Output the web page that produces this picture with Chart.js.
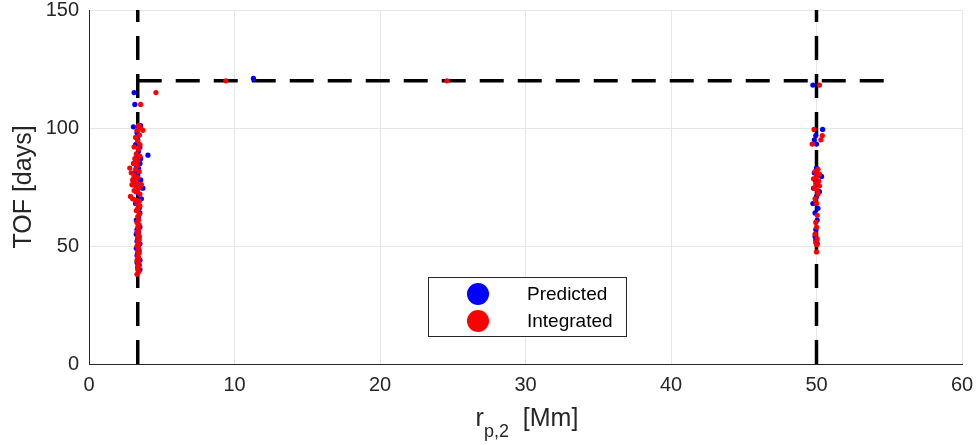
<!DOCTYPE html>
<html>
<head>
    <title>TOF vs r_p,2</title>
    <script src="https://cdn.jsdelivr.net/npm/chart.js"></script>
    <style>
        body { margin: 0; background: #fff; }
        #box { width: 979px; height: 445px; }
    </style>
</head>
<body>
<div id="box"><canvas id="myChart" width="979" height="445"></canvas></div>
<script>
    // 予測値 (Predicted)
    const predX = [3.05, 3.55, 3.1, 3.15, 4.05, 3.7, 3.3, 3.45, 3.35, 3.2, 3.5, 3.4, 3.3, 3.25, 3.5, 3.4, 3.15, 3.35, 3.55, 3.3,
        3.0, 3.45, 3.25, 3.4, 3.6, 3.35, 3.2, 3.45, 3.3, 3.5, 3.4, 3.25, 3.35, 3.5, 3.3, 3.4, 3.25, 3.45, 3.35, 3.3,
        3.5, 3.4, 3.25, 3.45, 3.35, 3.3, 3.4, 3.5, 3.3, 3.45, 3.35, 3.5, 3.4, 3.25, 3.55, 3.1,
        11.3,
        49.75, 50.42, 49.95, 49.85, 50.0, 50.0, 49.85, 50.15, 50.35, 49.9, 50.05, 49.8, 50.2, 50.0, 49.75, 50.1, 49.9, 50.05, 49.95, 49.9, 50.05, 49.95];
    const predY = [100.5, 101, 115, 110, 88.5, 74.5, 98, 97, 95, 93, 92, 90, 88, 86, 85, 83, 81, 80, 78, 77,
        76, 75, 73, 72, 70, 69, 68, 66, 65, 64, 62, 61, 60, 58, 57, 56, 55, 54, 53, 52,
        51, 50, 49, 48, 47, 46, 45, 44, 43, 42, 41, 40, 39.5, 84, 87, 79,
        121,
        118.2, 99.4, 96.8, 95, 93.2, 83, 81, 80, 79.5, 78, 76, 74.5, 73, 71, 68, 66, 64, 61, 57, 54, 51, 52.5];

    // 積分値 (Integrated)
    const intX = [4.6, 3.55, 3.4, 3.55, 3.7, 3.3, 3.45, 3.2, 3.35, 3.5, 3.1, 3.4, 3.25, 3.5, 3.15, 3.35, 3.05, 3.3, 3.2, 3.45,
        3.1, 3.35, 3.0, 3.25, 2.95, 3.2, 3.4, 3.1, 3.3, 2.85, 3.0, 3.2, 3.45, 3.3, 3.5, 3.35, 3.25, 3.45, 3.35, 3.4,
        3.3, 3.45, 3.35, 3.4, 3.3, 3.4, 3.35, 3.45, 3.35, 3.4, 3.3, 3.4, 3.35, 3.45, 3.35, 3.4, 3.3, 3.4, 3.35, 3.4,
        3.35, 3.4, 3.3, 2.8, 2.9, 3.6, 3.5,
        9.4, 24.6,
        50.2, 49.83, 50.4, 50.3, 49.7, 50.1, 49.9, 50.2, 50.0, 49.8, 50.15, 49.95, 50.2, 49.85, 50.05, 50.1, 49.9, 50.0, 50.05, 49.95,
        50.0, 49.9, 50.05, 49.95, 50.0, 50.0];
    const intY = [115, 110, 101, 100, 99, 99, 97, 96, 94.5, 93, 92, 91, 89, 88, 87, 86, 85, 84, 82.5, 81.5,
        80, 79, 78, 77, 76, 75.5, 74.5, 73.5, 73, 71, 70, 69.5, 69, 68, 67, 66, 65, 63.5, 62.5, 61,
        60, 59, 58, 57, 56, 55, 54, 53, 52, 51, 50, 49, 48, 47, 46, 45, 44, 43, 42, 41,
        40, 39, 38, 83, 81, 76, 72,
        120, 120,
        118.2, 99.4, 96.8, 95, 93.2, 82.5, 81.5, 80.5, 79.5, 78.5, 77.5, 76.5, 75.5, 74.5, 73.5, 72, 70, 68, 63, 60,
        58, 55, 53, 51.5, 50.5, 47.5];

    // 境界線
    const leftLineX = 3.35;
    const rightLineX = 50;
    const topLineY = 120;
    const topLineEndX = 55;

    const xTicks = [0, 10, 20, 30, 40, 50, 60];
    const yTicks = [0, 50, 100, 150];
    const legendOrder = ['Predicted', 'Integrated'];

    const toPoints = (xs, ys) => xs.map((x, i) => ({ x: x, y: ys[i] }));

    const FONT = '"Liberation Sans", Arial, Helvetica, sans-serif';
    const TEXT = '#262626';

    const dashed = {
        type: 'line',
        showLine: true,
        borderColor: '#000',
        borderWidth: 3.5,
        borderDash: [24, 14],
        pointRadius: 0,
        fill: false,
        order: 3,
    };

    const legendAndTitle = {
        id: 'legendAndTitle',
        afterDraw(chart) {
            const c = chart.ctx;
            c.save();
            // x軸タイトル (下付き文字)
            c.fillStyle = TEXT;
            c.textBaseline = 'alphabetic';
            const a = 'r', b = 'p,2', d = '  [Mm]';
            c.font = '25px ' + FONT;
            const wa = c.measureText(a).width;
            const wd = c.measureText(d).width;
            c.font = '18px ' + FONT;
            const wb = c.measureText(b).width;
            let x = 527 - (wa + wb + wd) / 2;
            const base = 426;
            c.font = '25px ' + FONT;
            c.fillText(a, x, base);
            x += wa;
            c.font = '18px ' + FONT;
            c.fillText(b, x, base + 11);
            x += wb;
            c.font = '25px ' + FONT;
            c.fillText(d, x, base);

            // 凡例
            c.fillStyle = '#fff';
            c.fillRect(428, 277, 198, 60);
            c.strokeStyle = '#262626';
            c.lineWidth = 1;
            c.strokeRect(428.5, 277.5, 198, 59);
            legendOrder.forEach((name, i) => {
                const ds = chart.data.datasets.find(d => d.label === name);
                const cy = 294 + i * 27;
                c.beginPath();
                c.arc(478, cy, 11, 0, Math.PI * 2);
                c.fillStyle = ds.backgroundColor;
                c.fill();
                c.fillStyle = '#000';
                c.font = '19px ' + FONT;
                c.textBaseline = 'middle';
                c.fillText(ds.label, 527, cy + 1);
            });
            c.restore();
        }
    };

    const ctx = document.getElementById('myChart').getContext('2d');
    const myChart = new Chart(ctx, {
        type: 'scatter',
        data: {
            datasets: [
                {
                    label: 'Integrated',
                    data: toPoints(intX, intY),
                    backgroundColor: '#ff0000',
                    borderWidth: 0,
                    pointRadius: 2.6,
                    order: 1,
                },
                {
                    label: 'Predicted',
                    data: toPoints(predX, predY),
                    backgroundColor: '#0000ff',
                    borderWidth: 0,
                    pointRadius: 2.6,
                    order: 2,
                },
                Object.assign({ data: [{ x: leftLineX, y: 0 }, { x: leftLineX, y: 150 }] }, dashed),
                Object.assign({ data: [{ x: rightLineX, y: 0 }, { x: rightLineX, y: 150 }] }, dashed),
                Object.assign({ data: [{ x: leftLineX, y: topLineY }, { x: topLineEndX, y: topLineY }] }, dashed),
            ],
        },
        options: {
            responsive: false,
            animation: false,
            layout: { padding: { left: 0, top: 10, right: 17, bottom: 0 } },
            plugins: {
                legend: { display: false },
                tooltip: { enabled: false },
            },
            scales: {
                x: {
                    type: 'linear',
                    min: 0,
                    max: 60,
                    afterBuildTicks: (s) => { s.ticks = xTicks.map(v => ({ value: v })); },
                    afterFit: (s) => { s.height = 81; s.paddingLeft = 0; s.paddingRight = 0; },
                    grid: { color: '#e6e6e6', drawTicks: false },
                    border: { color: '#262626', width: 1 },
                    ticks: { color: TEXT, font: { family: FONT, size: 20 }, padding: 9, maxRotation: 0 },
                    title: { display: false },
                },
                y: {
                    min: 0,
                    max: 150,
                    afterBuildTicks: (s) => { s.ticks = yTicks.map(v => ({ value: v })); },
                    afterFit: (s) => { s.width = 89; s.paddingTop = 0; s.paddingBottom = 0; },
                    grid: { color: '#e6e6e6', drawTicks: false },
                    border: { color: '#262626', width: 1 },
                    ticks: { color: TEXT, font: { family: FONT, size: 20 }, padding: 10 },
                    title: { display: true, text: 'TOF [days]', color: TEXT, font: { family: FONT, size: 25 }, padding: { top: 9, bottom: 0 } },
                },
            },
        },
        plugins: [legendAndTitle],
    });
</script>
</body>
</html>
